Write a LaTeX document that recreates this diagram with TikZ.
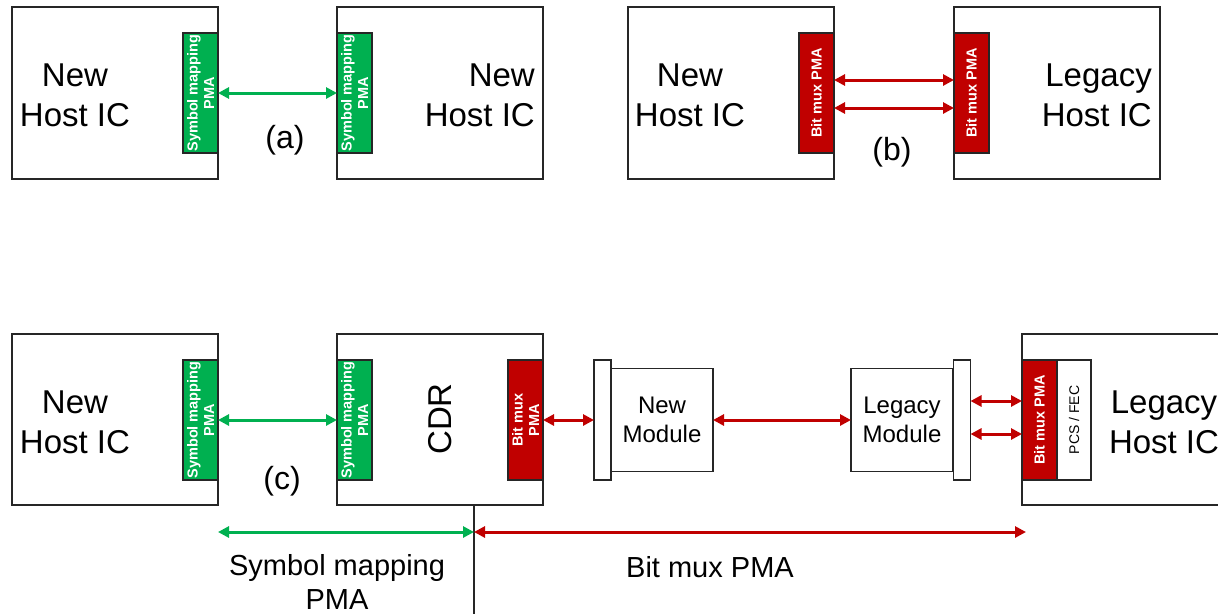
\documentclass[tikz,border=0pt]{standalone}
\usepackage{fontspec}
\setmainfont{Liberation Sans}
\usetikzlibrary{arrows.meta}
\definecolor{pmagreen}{HTML}{00B050}
\definecolor{pmared}{HTML}{C00000}
\definecolor{edge}{HTML}{262626}

\begin{document}
\begin{tikzpicture}[x=1pt,y=-1pt,
  chip/.style={draw=edge, line width=1.3pt, minimum width=206pt, minimum height=172pt, inner sep=0pt, outer sep=0pt},
  pma/.style={draw=edge, line width=1.1pt, minimum width=35pt, minimum height=120pt, inner sep=0pt, outer sep=0pt},
  greenpma/.style={pma, fill=pmagreen},
  redpma/.style={pma, fill=pmared},
  pmatext/.style={rotate=90, text=white, inner sep=0pt, align=center, font=\fontsize{14.5}{16.5}\selectfont\bfseries},
  hosttext/.style={inner sep=0pt, align=center, font=\fontsize{33}{40}\selectfont},
  tag/.style={inner sep=0pt, font=\fontsize{32}{38}\selectfont},
  bar/.style={draw=edge, line width=1.3pt, fill=white, minimum width=17pt, minimum height=120pt, inner sep=0pt, outer sep=0pt},
  module/.style={draw=edge, line width=1.3pt, minimum width=102pt, minimum height=103pt, inner sep=0pt, outer sep=0pt, align=center, font=\fontsize{24}{29.5}\selectfont},
  captext/.style={inner sep=0pt, align=center, font=\fontsize{29}{34}\selectfont},
  link/.style={line width=3pt, {Triangle[length=11pt,width=11pt]}-{Triangle[length=11pt,width=11pt]}},
  greenlink/.style={link, draw=pmagreen, fill=pmagreen},
  redlink/.style={link, draw=pmared, fill=pmared},
  divider/.style={draw=edge, line width=1.1pt}
]
\useasboundingbox (0,0) rectangle (1218,614);
\clip (0,0) rectangle (1218,614);

% ---------- (a) new host to new host ----------
\node[chip] (a1) at (115,93) {};
\node[greenpma] (a1p) at (200.5,93) {};
\node[pmatext] (a1pt) at (a1p) {Symbol mapping\\PMA};
\node[hosttext] (a1t) at (75,95) {New\\Host IC};

\node[chip] (a2) at (440,93) {};
\node[greenpma] (a2p) at (354.5,93) {};
\node[pmatext] (a2pt) at (a2p) {Symbol mapping\\PMA};
\node[hosttext, align=right, anchor=east] (a2t) at (535,95) {New\\Host IC};

\node[tag] (atag) at (285,140) {(a)};
\draw[greenlink] (a1p.east) -- (a2p.west);

% ---------- (b) new host to legacy host ----------
\node[chip] (b1) at (731,93) {};
\node[redpma] (b1p) at (816.5,93) {};
\node[pmatext] (b1pt) at (b1p) {Bit mux PMA};
\node[hosttext] (b1t) at (690,95) {New\\Host IC};

\node[chip] (b2) at (1057,93) {};
\node[redpma] (b2p) at (971.5,93) {};
\node[pmatext] (b2pt) at (b2p) {Bit mux PMA};
\node[hosttext, align=right, anchor=east] (b2t) at (1152,95) {Legacy\\Host IC};

\node[tag] (btag) at (892,152) {(b)};
\draw[redlink] ([yshift=13pt]b1p.east) -- ([yshift=13pt]b2p.west);
\draw[redlink] ([yshift=-15pt]b1p.east) -- ([yshift=-15pt]b2p.west);

% ---------- (c) new host, CDR, modules, legacy host ----------
\node[chip, minimum height=171pt] (c1) at (115,419.5) {};
\node[greenpma] (c1p) at (200.5,420) {};
\node[pmatext] (c1pt) at (c1p) {Symbol mapping\\PMA};
\node[hosttext] (c1t) at (75,422.5) {New\\Host IC};

\node[chip, minimum height=171pt] (cdr) at (440,419.5) {};
\node[greenpma] (cdrg) at (354.5,420) {};
\node[pmatext] (cdrgt) at (cdrg) {Symbol mapping\\PMA};
\node[redpma] (cdrr) at (525.5,420) {};
\node[pmatext] (cdrrt) at (cdrr) {Bit mux\\PMA};
\node[hosttext, rotate=90] (cdrt) at (440,419) {CDR};

\node[tag] (ctag) at (282,481) {(c)};

\node[bar] (nbar) at (602.5,420) {};
\node[module] (nmod) at (662,420) {New\\Module};
\node[module] (lmod) at (902,420) {Legacy\\Module};
\node[bar] (lbar) at (962,420) {};

\node[chip, minimum height=171pt] (c3) at (1125,419.5) {};
\node[redpma] (c3p) at (1039.5,420) {};
\node[pmatext] (c3pt) at (c3p) {Bit mux PMA};
\node[pma, minimum width=34pt] (pcs) at (1074,420) {};
\node[pmatext, text=black, font=\fontsize{14}{16.5}\selectfont] (pcst) at (pcs) {PCS / FEC};
\node[hosttext] (c3t) at (1164,422.5) {Legacy\\Host IC};

\draw[greenlink] (c1p.east) -- (cdrg.west);
\draw[redlink] (cdrr.east) -- (nbar.west);
\draw[redlink] (nmod.east) -- (lmod.west);
\draw[redlink] ([yshift=19pt]lbar.east) -- ([yshift=19pt]c3p.west);
\draw[redlink] ([yshift=-14pt]lbar.east) -- ([yshift=-14pt]c3p.west);

% ---------- PMA span annotation ----------
\coordinate (split) at (474,532);
\coordinate (spanl) at (218,532);
\coordinate (spanr) at (1026,532);
\coordinate (floor) at (474,614);
\draw[divider] (cdr.south -| split) -- (floor);
\draw[greenlink] (spanl) -- (split);
\draw[redlink] (split) -- (spanr);
\node[captext] (capl) at (337,581.5) {Symbol mapping\\PMA};
\node[captext] (capr) at (710,567) {Bit mux PMA};
\end{tikzpicture}
\end{document}
